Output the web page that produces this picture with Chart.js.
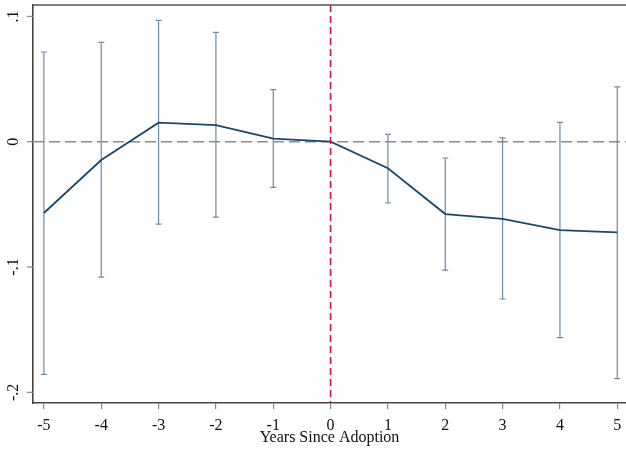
<!DOCTYPE html>
<html>
<head>
<meta charset="utf-8">
<script src="https://cdn.jsdelivr.net/npm/chart.js@4.4.1/dist/chart.umd.min.js"></script>
<style>
  html, body { margin: 0; padding: 0; background: #fff; }
  #wrap { width: 626px; height: 453px; }
</style>
</head>
<body>
<div id="wrap"><canvas id="eventChart"></canvas></div>
<script>
// event-study estimates
const years = [-5, -4, -3, -2, -1, 0, 1, 2, 3, 4, 5];
const estimates = [-0.0569, -0.0146, 0.0152, 0.0133, 0.0024, 0, -0.0212, -0.0577, -0.0615, -0.0705, -0.0723];
const ciUpper = [0.0716, 0.0793, 0.0969, 0.0873, 0.0415, null, 0.0059, -0.0130, 0.0030, 0.0155, 0.0437];
const ciLower = [-0.1856, -0.1080, -0.0657, -0.0601, -0.0364, null, -0.0489, -0.1025, -0.1255, -0.1564, -0.1891];
const yTicks = [0.1, 0, -0.1, -0.2];
const yTickLabels = ['.1', '0', '-.1', '-.2'];

const serif = '"Liberation Serif", "Times New Roman", serif';

const stataBits = {
    id: 'stataBits',
    beforeDatasetsDraw(chart) {
        const { ctx, chartArea: a, scales: { x, y } } = chart;
        ctx.save();
        // horizontal zero line
        ctx.strokeStyle = '#8c8c8c';
        ctx.lineWidth = 1.6;
        ctx.setLineDash([11, 5]);
        ctx.beginPath();
        ctx.moveTo(a.left, y.getPixelForValue(0));
        ctx.lineTo(a.right, y.getPixelForValue(0));
        ctx.stroke();

        // confidence interval caps
        ctx.setLineDash([]);
        ctx.strokeStyle = '#6d8bab';
        ctx.lineWidth = 1.2;
        years.forEach((yr, i) => {
            if (ciUpper[i] === null) return;
            const px = x.getPixelForValue(yr);
            const top = y.getPixelForValue(ciUpper[i]);
            const bot = y.getPixelForValue(ciLower[i]);
            ctx.beginPath();
            ctx.moveTo(px, top);
            ctx.lineTo(px, bot);
            ctx.moveTo(px - 3, top);
            ctx.lineTo(px + 3, top);
            ctx.moveTo(px - 3, bot);
            ctx.lineTo(px + 3, bot);
            ctx.stroke();
        });
        ctx.restore();
    },
    afterDatasetsDraw(chart) {
        const { ctx, chartArea: a, scales: { x, y } } = chart;
        ctx.save();
        // adoption year
        ctx.strokeStyle = '#d8143c';
        ctx.lineWidth = 1.6;
        ctx.setLineDash([7, 4]);
        ctx.beginPath();
        const x0 = x.getPixelForValue(0);
        ctx.moveTo(x0, a.top);
        ctx.lineTo(x0, a.bottom);
        ctx.stroke();

        // top frame
        ctx.setLineDash([]);
        ctx.strokeStyle = '#555';
        ctx.lineWidth = 1.5;
        ctx.beginPath();
        ctx.moveTo(a.left, a.top);
        ctx.lineTo(a.right, a.top);
        ctx.stroke();

        // y ticks and rotated labels
        ctx.strokeStyle = '#888';
        ctx.lineWidth = 1.2;
        ctx.fillStyle = '#111';
        ctx.font = '16px ' + serif;
        ctx.textAlign = 'center';
        ctx.textBaseline = 'middle';
        yTicks.forEach((v, i) => {
            const py = y.getPixelForValue(v);
            ctx.beginPath();
            ctx.moveTo(a.left - 6, py);
            ctx.lineTo(a.left, py);
            ctx.stroke();
            ctx.save();
            ctx.translate(14, py);
            ctx.rotate(-Math.PI / 2);
            ctx.fillText(yTickLabels[i], 0, 0);
            ctx.restore();
        });
        ctx.restore();
    }
};

const ctx = document.getElementById('eventChart').getContext('2d');
new Chart(ctx, {
    type: 'line',
    data: {
        datasets: [{
            data: years.map((yr, i) => ({ x: yr, y: estimates[i] })),
            borderColor: '#1a476f',
            borderWidth: 1.8,
            pointRadius: 0,
            tension: 0,
            fill: false
        }]
    },
    options: {
        responsive: true,
        maintainAspectRatio: false,
        animation: false,
        layout: { padding: { top: 5, right: 0, left: 0, bottom: 0 } },
        plugins: {
            legend: { display: false },
            tooltip: { enabled: false }
        },
        scales: {
            x: {
                type: 'linear',
                min: -5.19,
                max: 5.152,
                afterBuildTicks: (scale) => {
                    scale.ticks = years.map(v => ({ value: v }));
                },
                afterFit: (scale) => {
                    scale.height = 50;
                    scale.paddingLeft = 0;
                    scale.paddingRight = 0;
                },
                grid: { drawOnChartArea: false, drawTicks: true, tickLength: 6, color: '#888', lineWidth: 1.2 },
                border: { display: true, color: '#444', width: 1.6 },
                ticks: {
                    color: '#111',
                    font: { family: serif, size: 16 },
                    padding: 7,
                    maxRotation: 0,
                    autoSkip: false
                },
                title: {
                    display: true,
                    text: 'Years Since Adoption',
                    color: '#111',
                    font: { family: serif, size: 16 },
                    padding: { top: 0, bottom: 6 }
                }
            },
            y: {
                min: -0.2085,
                max: 0.1091,
                afterFit: (scale) => {
                    scale.width = 33;
                    scale.paddingTop = 0;
                    scale.paddingBottom = 0;
                },
                grid: { display: false },
                border: { display: true, color: '#444', width: 1.6 },
                ticks: { display: false }
            }
        }
    },
    plugins: [stataBits]
});
</script>
</body>
</html>
